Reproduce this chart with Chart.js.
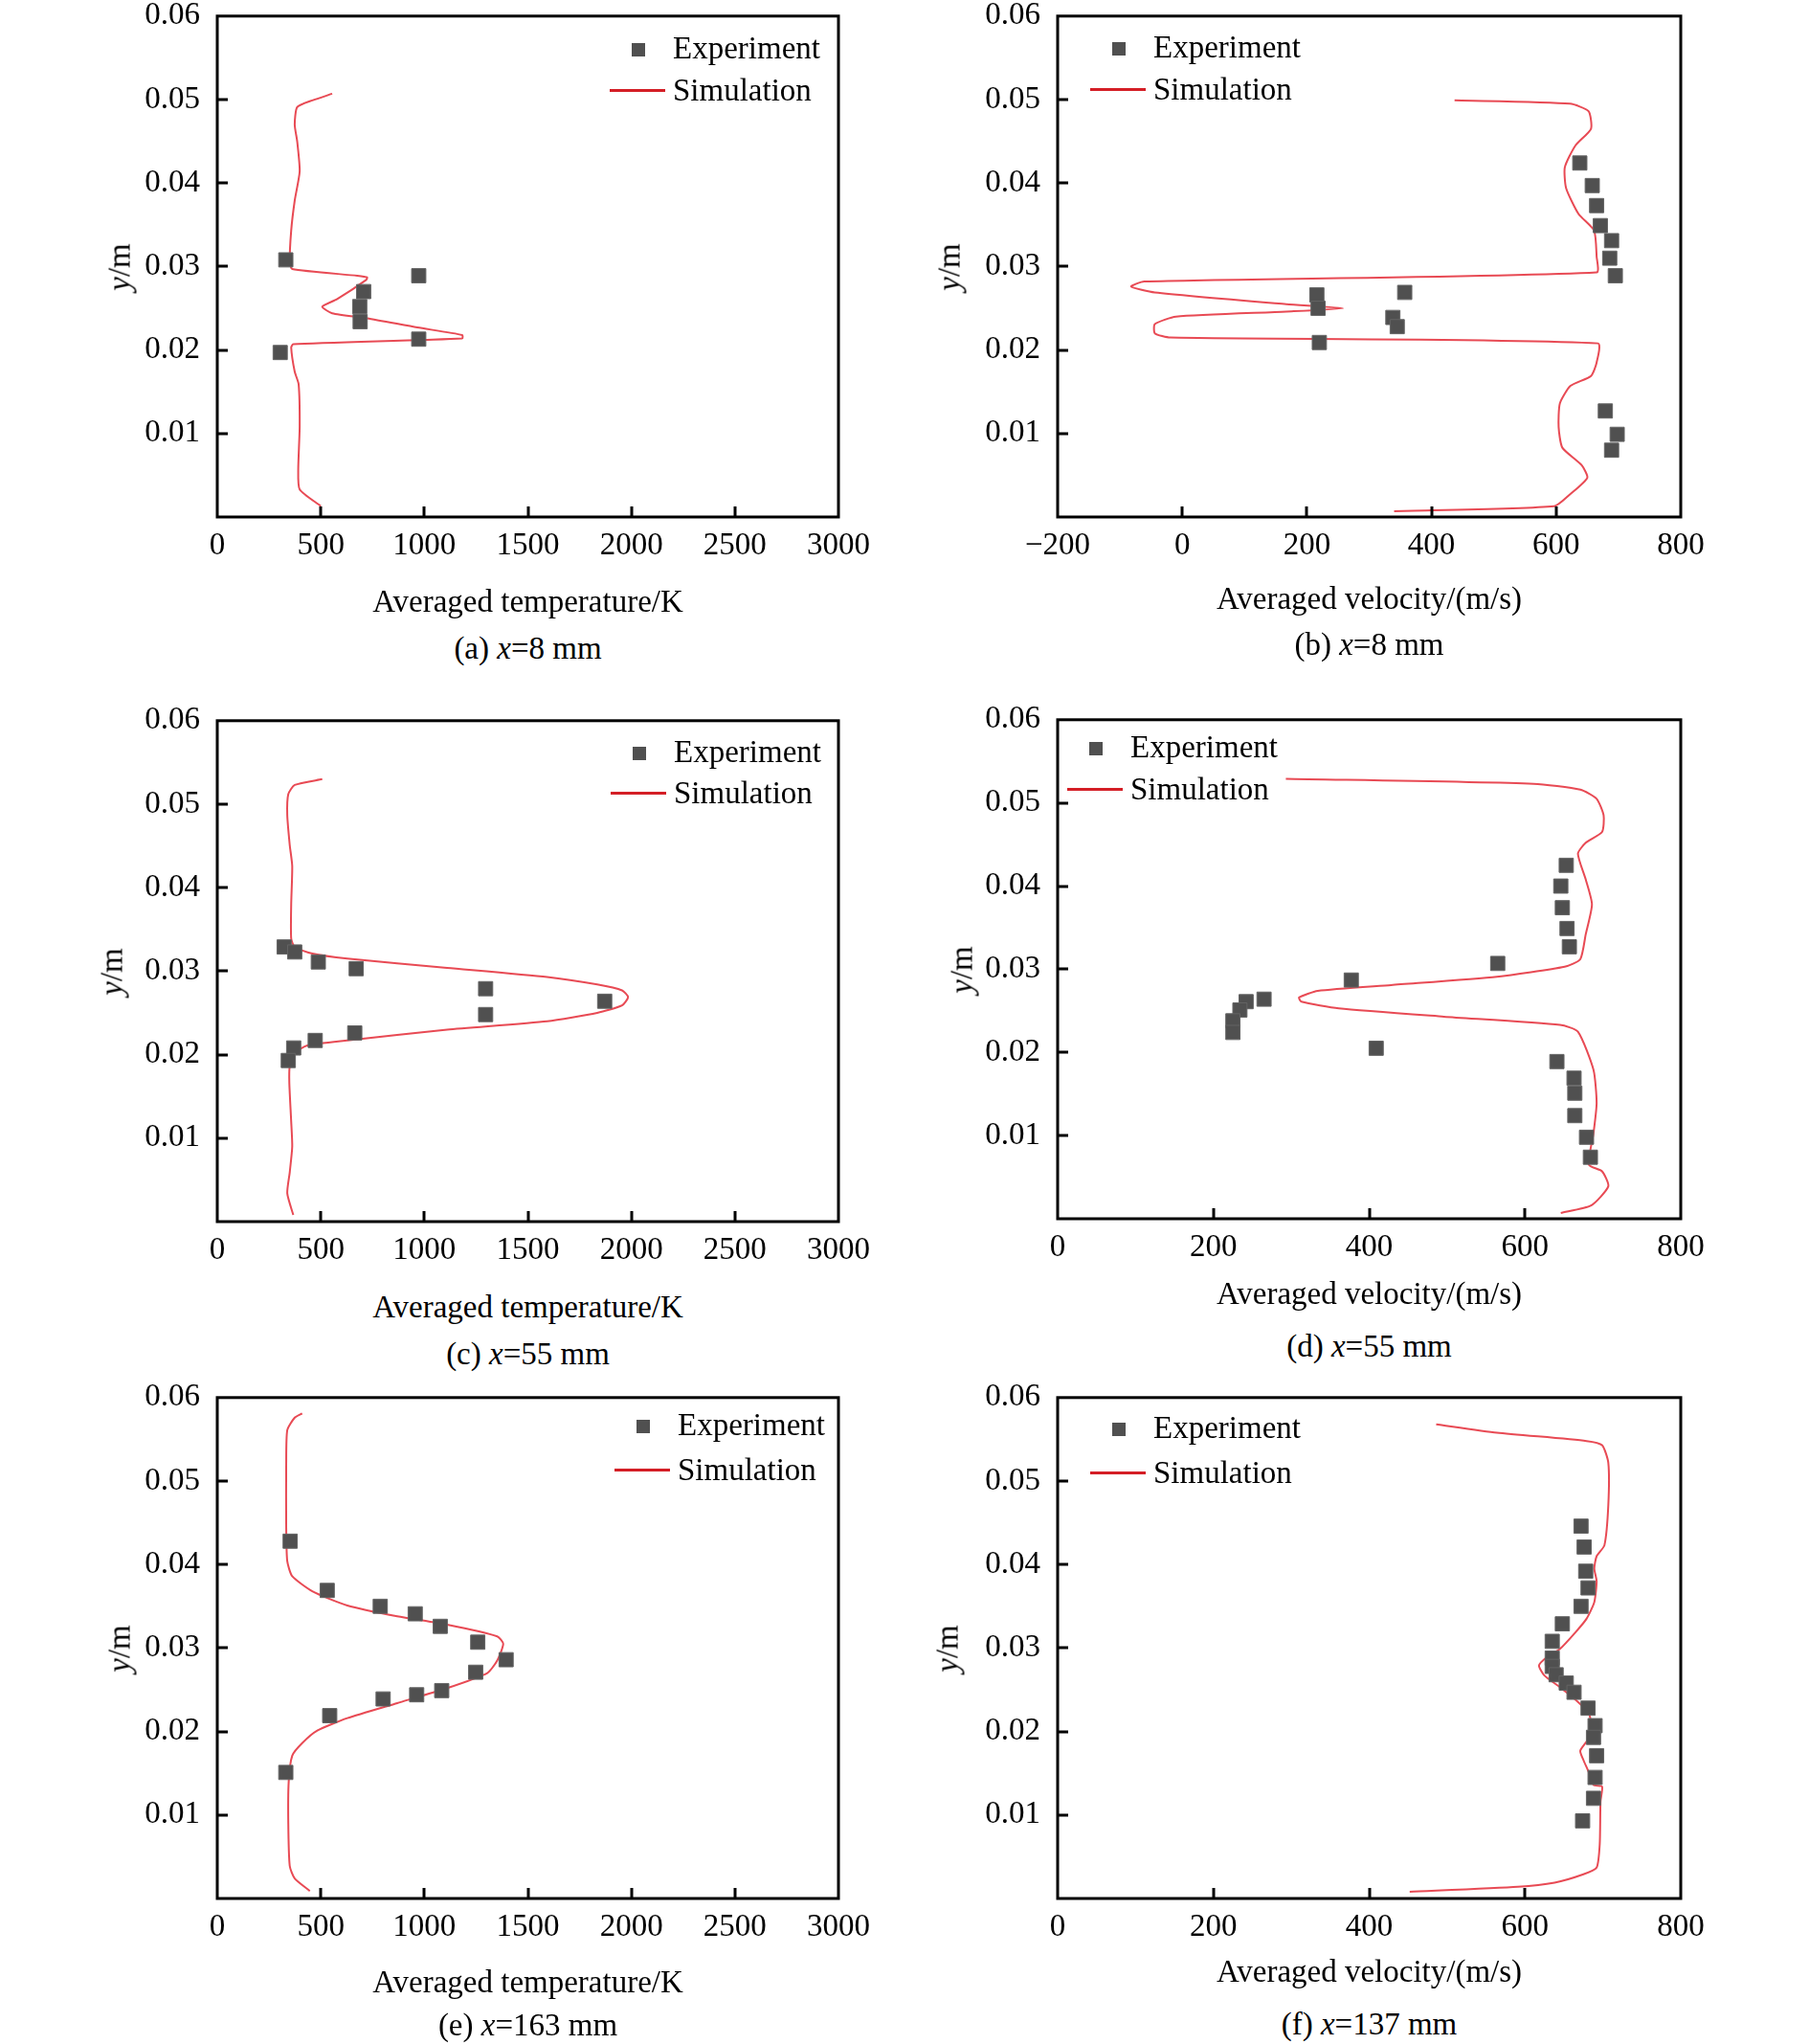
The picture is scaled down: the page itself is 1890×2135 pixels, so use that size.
<!DOCTYPE html>
<html>
<head>
<meta charset="utf-8">
<script src="https://cdn.jsdelivr.net/npm/chart.js@4.4.1/dist/chart.umd.min.js"></script>
<style>
  body { margin: 0; width: 1890px; height: 2135px; background: #fff; position: relative; overflow: hidden;
         font-family: "Liberation Serif", "Times New Roman", serif; color: #000; }
  canvas { position: absolute; }
  .txt { position: absolute; font-size: 33px; white-space: nowrap; transform: translate(-50%, -50%); line-height: 1; }
  .ylab { transform: translate(-50%, -50%) rotate(-90deg); }
  .leg { position: absolute; font-size: 33px; white-space: nowrap; line-height: 1; transform: translateY(-50%); }
  .sq { position: absolute; width: 14px; height: 14px; background: #505050; }
  .ln { position: absolute; height: 3px; background: #d41e26; }
</style>
</head>
<body>
<script>
// ---- tick values ----
const yTicks = [0, 0.01, 0.02, 0.03, 0.04, 0.05, 0.06];
const tempTicks = [0, 500, 1000, 1500, 2000, 2500, 3000];
const velTicksWide = [-200, 0, 200, 400, 600, 800];
const velTicks = [0, 200, 400, 600, 800];

// ---- (a) x=8 mm, temperature ----
const aSimT = [500, 398, 391, 398, 393, 374, 357, 367, 1183, 1183, 966, 724, 555, 507, 579, 719, 724, 676, 362, 350, 357, 374, 398, 386, 374, 386, 459, 555];
const aSimY = [0.0013, 0.0033, 0.0057, 0.0108, 0.0159, 0.0174, 0.0203, 0.0207, 0.0214, 0.0218, 0.0227, 0.0238, 0.0244, 0.0252, 0.0261, 0.0284, 0.0287, 0.0289, 0.0297, 0.0305, 0.0343, 0.0379, 0.0414, 0.0450, 0.0470, 0.0491, 0.0499, 0.0507];
const aExpT = [331, 973, 707, 688, 690, 973, 304];
const aExpY = [0.0308, 0.0289, 0.0270, 0.0252, 0.0234, 0.0213, 0.0197];

// ---- (b) x=8 mm, velocity ----
const bSimV = [340, 597, 622, 650, 641, 610, 604, 606, 623, 656, 665, 667, -19, -44, -44, -10, 167, 258, 167, -44, -82, -61, 665, 665, 661, 636, 616, 614, 631, 656, 652, 622, 437];
const bSimY = [0.0007, 0.0013, 0.0027, 0.0047, 0.0062, 0.0083, 0.0108, 0.0136, 0.0157, 0.0169, 0.0185, 0.0208, 0.0215, 0.0220, 0.0231, 0.0240, 0.0246, 0.0250, 0.0255, 0.0269, 0.0276, 0.0282, 0.0293, 0.0312, 0.0343, 0.0363, 0.0394, 0.0419, 0.0445, 0.0465, 0.0486, 0.0495, 0.0499];
const bExpV = [638, 658, 665, 671, 689, 686, 695, 216, 218, 220, 357, 338, 345, 679, 698, 689];
const bExpY = [0.0424, 0.0397, 0.0373, 0.0349, 0.0331, 0.0310, 0.0289, 0.0266, 0.0250, 0.0209, 0.0269, 0.0239, 0.0228, 0.0127, 0.0099, 0.0080];

// ---- (c) x=55 mm, temperature ----
const cSimT = [367, 338, 350, 362, 357, 348, 350, 374, 435, 628, 1110, 1593, 1835, 1955, 1984, 1955, 1835, 1593, 1110, 628, 459, 374, 357, 357, 362, 350, 338, 343, 374, 507];
const cSimY = [0.0008, 0.0034, 0.0059, 0.0090, 0.0120, 0.0166, 0.0186, 0.0202, 0.0211, 0.0217, 0.0230, 0.0240, 0.0250, 0.0259, 0.0269, 0.0277, 0.0284, 0.0293, 0.0304, 0.0315, 0.0321, 0.0329, 0.0339, 0.0380, 0.0426, 0.0451, 0.0487, 0.0512, 0.0523, 0.0530];
const cExpT = [323, 374, 488, 671, 1296, 1871, 1296, 664, 473, 369, 343];
const cExpY = [0.0329, 0.0323, 0.0311, 0.0303, 0.0279, 0.0264, 0.0248, 0.0226, 0.0217, 0.0208, 0.0193];

// ---- (d) x=55 mm, velocity ----
const dSimV = [646, 685, 707, 699, 682, 688, 692, 688, 668, 645, 496, 361, 313, 310, 334, 428, 564, 651, 671, 678, 686, 678, 668, 678, 699, 701, 692, 671, 611, 293];
const dSimY = [0.0007, 0.0016, 0.0039, 0.0057, 0.0065, 0.0103, 0.0139, 0.0179, 0.0225, 0.0233, 0.0243, 0.0253, 0.0261, 0.0266, 0.0274, 0.0281, 0.0291, 0.0303, 0.0312, 0.0342, 0.0378, 0.0408, 0.0439, 0.0452, 0.0465, 0.0485, 0.0505, 0.0516, 0.0523, 0.0529];
const dExpV = [653, 646, 648, 654, 657, 565, 377, 265, 242, 234, 225, 225, 409, 641, 663, 664, 664, 679, 684];
const dExpY = [0.0425, 0.0400, 0.0374, 0.0349, 0.0327, 0.0307, 0.0287, 0.0264, 0.0261, 0.0251, 0.0238, 0.0224, 0.0205, 0.0189, 0.0169, 0.0151, 0.0124, 0.0098, 0.0074];

// ---- (e) x=163 mm, temperature ----
const eSimT = [447, 374, 350, 343, 345, 362, 410, 483, 628, 869, 1110, 1304, 1352, 1381, 1352, 1110, 869, 628, 459, 362, 338, 333, 333, 338, 374, 410];
const eSimY = [0.0009, 0.0024, 0.0039, 0.0090, 0.0140, 0.0171, 0.0186, 0.0201, 0.0216, 0.0234, 0.0252, 0.0270, 0.0285, 0.0305, 0.0314, 0.0328, 0.0338, 0.0351, 0.0368, 0.0386, 0.0404, 0.0444, 0.0521, 0.0561, 0.0576, 0.0581];
const eExpT = [352, 531, 787, 956, 1077, 1258, 1395, 1248, 1084, 963, 801, 543, 331];
const eExpY = [0.0428, 0.0369, 0.0350, 0.0341, 0.0326, 0.0307, 0.0286, 0.0271, 0.0249, 0.0244, 0.0239, 0.0219, 0.0151];

// ---- (f) x=137 mm, velocity ----
const fSimV = [452, 591, 638, 675, 692, 696, 697, 699, 688, 682, 675, 671, 682, 685, 682, 665, 645, 625, 618, 628, 645, 665, 679, 689, 692, 689, 692, 702, 707, 707, 699, 679, 564, 486];
const fSimY = [0.0008, 0.0014, 0.0019, 0.0029, 0.0037, 0.0065, 0.0116, 0.0134, 0.0136, 0.0151, 0.0166, 0.0177, 0.0192, 0.0207, 0.0222, 0.0238, 0.0253, 0.0267, 0.0279, 0.0289, 0.0299, 0.0319, 0.0335, 0.0355, 0.0380, 0.0395, 0.0410, 0.0423, 0.0471, 0.0522, 0.0543, 0.0548, 0.0558, 0.0568];
const fExpV = [672, 676, 678, 681, 672, 648, 635, 635, 635, 640, 653, 663, 681, 690, 688, 692, 690, 688, 674];
const fExpY = [0.0446, 0.0421, 0.0392, 0.0372, 0.0350, 0.0329, 0.0308, 0.0288, 0.0278, 0.0268, 0.0258, 0.0247, 0.0228, 0.0207, 0.0193, 0.0171, 0.0145, 0.0120, 0.0093];

const TEMP_TITLE = "Averaged temperature/K";
const VEL_TITLE = "Averaged velocity/(m/s)";

// frame around the plot and inward tick marks
const framePlugin = {
  id: "frame",
  afterDatasetsDraw(chart) {
    const { ctx, chartArea: a, scales } = chart;
    const xs = scales.x, ys = scales.y;
    ctx.save();
    ctx.strokeStyle = "#000";
    ctx.lineWidth = 3;
    ctx.beginPath();
    xs.ticks.forEach(t => {
      if (t.value <= xs.min || t.value >= xs.max) return;
      const px = Math.round(xs.getPixelForValue(t.value));
      ctx.moveTo(px, a.bottom);
      ctx.lineTo(px, a.bottom - 11);
    });
    ys.ticks.forEach(t => {
      if (t.value <= ys.min || t.value >= ys.max) return;
      const py = Math.round(ys.getPixelForValue(t.value));
      ctx.moveTo(a.left, py);
      ctx.lineTo(a.left + 11, py);
    });
    ctx.stroke();
    ctx.strokeRect(a.left, a.top, a.right - a.left, a.bottom - a.top);
    ctx.restore();
  }
};

function pts(xs, ys) {
  return xs.map((v, i) => ({ x: v, y: ys[i] }));
}

function addText(html, x, y, cls) {
  const d = document.createElement("div");
  d.className = cls || "txt";
  d.innerHTML = html;
  d.style.left = x + "px";
  d.style.top = y + "px";
  document.body.appendChild(d);
  return d;
}

const PADL = 140, PADT = 30, PADR = 60, PADB = 70;
const FONT = { family: "Liberation Serif", size: 33 };

function makePanel(p) {
  const cv = document.createElement("canvas");
  let W = p.w + PADL + PADR, H = p.h + PADT + PADB;
  cv.width = W; cv.height = H;
  cv.style.width = W + "px"; cv.style.height = H + "px";
  document.body.appendChild(cv);

  const xTickVals = p.xTicks;
  const chart = new Chart(cv.getContext("2d"), {
    type: "scatter",
    data: {
      datasets: [
        {
          label: "Experiment",
          data: pts(p.expX, p.expY),
          pointStyle: "rect",
          pointRadius: 10.5,
          backgroundColor: "#505050",
          borderColor: "#646464",
          borderWidth: 1,
          order: 1
        },
        {
          label: "Simulation",
          data: pts(p.simX, p.simY),
          showLine: true,
          pointRadius: 0,
          borderColor: "#e84a54",
          borderWidth: 2,
          tension: 0.2,
          order: 2
        }
      ]
    },
    options: {
      responsive: false,
      maintainAspectRatio: false,
      animation: false,
      devicePixelRatio: 1,
      layout: { padding: { left: 0, top: PADT, right: PADR, bottom: 0 } },
      plugins: { legend: { display: false }, tooltip: { enabled: false } },
      scales: {
        x: {
          type: "linear",
          min: xTickVals[0],
          max: xTickVals[xTickVals.length - 1],
          afterBuildTicks: s => { s.ticks = xTickVals.map(v => ({ value: v })); },
          afterFit: s => { s.height = PADB; },
          grid: { display: false, drawTicks: false },
          border: { display: false },
          ticks: {
            padding: 11,
            color: "#000",
            font: FONT,
            callback: v => String(v).replace("-", "\u2212")
          }
        },
        y: {
          type: "linear",
          min: 0,
          max: 0.06,
          afterBuildTicks: s => { s.ticks = yTicks.map(v => ({ value: v })); },
          afterFit: s => { s.width = PADL; },
          grid: { display: false, drawTicks: false },
          border: { display: false },
          ticks: {
            padding: 18,
            color: "#000",
            font: FONT,
            callback: v => (v === 0 ? "" : v.toFixed(2))
          }
        }
      }
    },
    plugins: [framePlugin]
  });

  // make the chart area land exactly on the plot box of the reference
  for (let k = 0; k < 3; k++) {
    const ca = chart.chartArea;
    const W2 = Math.round(ca.left + p.w + (W - ca.right));
    const H2 = Math.round(ca.top + p.h + (H - ca.bottom));
    if (W2 !== W || H2 !== H) {
      W = W2; H = H2;
      cv.style.width = W + "px"; cv.style.height = H + "px";
      chart.resize(W, H);
    }
  }
  cv.style.left = Math.round(p.left - chart.chartArea.left) + "px";
  cv.style.top = Math.round(p.top - chart.chartArea.top) + "px";

  // texts
  addText(p.xTitle, p.left + p.w / 2, p.titleY);
  addText(p.caption, p.left + p.w / 2, p.capY);
  addText("<i>y</i>/m", p.ylabX, p.top + p.h / 2, "txt ylab");

  // legend built from the datasets
  const tx = p.left + p.legX;
  chart.data.datasets.forEach((ds, i) => {
    const yy = p.top + p.legDy[i];
    addText(ds.label, tx, yy, "leg");
    if (ds.showLine) {
      const l = document.createElement("div");
      l.className = "ln";
      l.style.left = (tx - 66) + "px";
      l.style.width = "58px";
      l.style.top = (yy - 1) + "px";
      document.body.appendChild(l);
    } else {
      const s = document.createElement("div");
      s.className = "sq";
      s.style.left = (tx - 43) + "px";
      s.style.top = (yy - 5) + "px";
      document.body.appendChild(s);
    }
  });
  return chart;
}

const panels = [
  { left: 227, top: 17, w: 649, h: 523, xTicks: tempTicks, simX: aSimT, simY: aSimY, expX: aExpT, expY: aExpY,
    xTitle: TEMP_TITLE, titleY: 628, caption: "(a) <i>x</i>=8 mm", capY: 677, ylabX: 125, legX: 476, legDy: [33, 77] },
  { left: 1105, top: 17, w: 651, h: 523, xTicks: velTicksWide, simX: bSimV, simY: bSimY, expX: bExpV, expY: bExpY,
    xTitle: VEL_TITLE, titleY: 625, caption: "(b) <i>x</i>=8 mm", capY: 673, ylabX: 992, legX: 100, legDy: [32, 76] },
  { left: 227, top: 753, w: 649, h: 523, xTicks: tempTicks, simX: cSimT, simY: cSimY, expX: cExpT, expY: cExpY,
    xTitle: TEMP_TITLE, titleY: 1365, caption: "(c) <i>x</i>=55 mm", capY: 1414, ylabX: 117, legX: 477, legDy: [32, 75] },
  { left: 1105, top: 752, w: 651, h: 521, xTicks: velTicks, simX: dSimV, simY: dSimY, expX: dExpV, expY: dExpY,
    xTitle: VEL_TITLE, titleY: 1351, caption: "(d) <i>x</i>=55 mm", capY: 1406, ylabX: 1005, legX: 76, legDy: [28, 72] },
  { left: 227, top: 1460, w: 649, h: 523, xTicks: tempTicks, simX: eSimT, simY: eSimY, expX: eExpT, expY: eExpY,
    xTitle: TEMP_TITLE, titleY: 2070, caption: "(e) <i>x</i>=163 mm", capY: 2115, ylabX: 125, legX: 481, legDy: [28, 75] },
  { left: 1105, top: 1460, w: 651, h: 523, xTicks: velTicks, simX: fSimV, simY: fSimY, expX: fExpV, expY: fExpY,
    xTitle: VEL_TITLE, titleY: 2059, caption: "(f) <i>x</i>=137 mm", capY: 2114, ylabX: 990, legX: 100, legDy: [31, 78] }
];

panels.forEach(makePanel);
</script>
</body>
</html>
